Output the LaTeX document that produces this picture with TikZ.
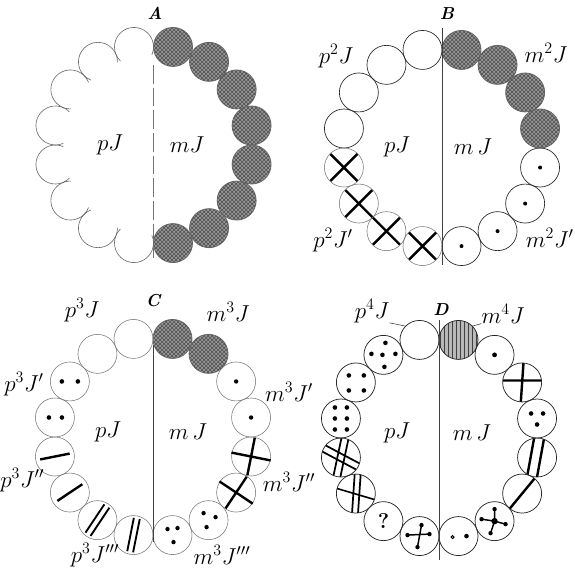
\documentclass[tikz,border=0pt]{standalone}
\usetikzlibrary{patterns,calc}
\begin{document}
\begin{tikzpicture}[x=0.75pt,y=-0.75pt,
  ball/.style={circle,minimum size=29.25pt,inner sep=0pt,outer sep=0pt},
  bopen/.style={ball,draw=black!85,line width=0.5pt},
  bfaint/.style={ball,draw=black!55,line width=0.4pt},
  bdark/.style={ball,draw=black!60,fill=black!40,line width=0.6pt},
  bnone/.style={ball},
  thk/.style={line width=1.8pt,line cap=butt},
  lbl/.style={font=\fontsize{16.5}{16.5}\selectfont,inner sep=0pt},
  ttl/.style={font=\fontsize{13}{13}\selectfont\bfseries\itshape,inner sep=0pt},
  divider/.style={black!75,line width=0.5pt},
  leader/.style={black!80,line width=0.4pt},
  texture/.style={pattern=crosshatch,pattern color=black!70}
]
\useasboundingbox (0,0) rectangle (575,572);

% ---------------- Panel A ----------------
\def\cx{153.5}\def\cy{145}
\foreach \n/\a/\s in {AR1/11.25/bdark,AR2/33.75/bdark,AR3/56.25/bdark,AR4/78.75/bdark,
  AR5/101.25/bdark,AR6/123.75/bdark,AR7/146.25/bdark,AR8/168.75/bdark,
  AL1/-11.25/bnone,AL2/-33.75/bnone,AL3/-56.25/bnone,AL4/-78.75/bnone,
  AL5/-101.25/bnone,AL6/-123.75/bnone,AL7/-146.25/bnone,AL8/-168.75/bnone}
  \node[\s] (\n) at ({\cx+100*sin(\a)},{\cy-100*cos(\a)}) {};
\foreach \k in {1,...,8} \fill[texture] (AR\k.center) circle[radius=19.2];
\foreach \k/\a in {1/-11.25,2/-33.75,3/-56.25,4/-78.75,5/-101.25,6/-123.75,7/-146.25,8/-168.75}
  \draw[black!60,line width=0.45pt,shift={(AL\k.center)},rotate={90-\a}]
    (-125:19.5) arc[start angle=-125,end angle=125,radius=19.5];
\coordinate (Atop) at (153.5,65); \coordinate (Abot) at (153.5,258);
\draw[divider,black!55,dash pattern=on 14pt off 3pt] (Atop) -- (Abot);
\node[ttl] (tA) at (155,13) {A};
\node[lbl] (pJA) at (110,145) {$pJ$};
\node[lbl] (mJA) at (187,145) {$mJ$};

% ---------------- Panel B ----------------
\def\cx{442}\def\cy{148}
\foreach \n/\a/\s in {BR1/11.25/bdark,BR2/33.75/bdark,BR3/56.25/bdark,BR4/78.75/bdark,
  BR5/101.25/bopen,BR6/123.75/bopen,BR7/146.25/bopen,BR8/168.75/bopen,
  BL1/-11.25/bopen,BL2/-33.75/bopen,BL3/-56.25/bopen,BL4/-78.75/bopen,
  BL5/-101.25/bfaint,BL6/-123.75/bfaint,BL7/-146.25/bfaint,BL8/-168.75/bfaint}
  \node[\s] (\n) at ({\cx+100*sin(\a)},{\cy-100*cos(\a)}) {};
\foreach \k in {1,...,4} \fill[texture] (BR\k.center) circle[radius=19.2];
\foreach \k in {5,...,8} \fill (BR\k.center) circle[radius=2];
\foreach \k in {5,...,8}
  \draw[thk,shift={(BL\k.center)},rotate=45] (-19,0) -- (19,0) (0,-19) -- (0,19);
\coordinate (Btop) at (442,28); \coordinate (Bbot) at (442,265);
\draw[divider] (Btop) -- (Bbot);
\node[ttl] (tB) at (447,14) {B};
\node[lbl] (p2) at (336,56) {$p^2J$};
\node[lbl] (m2) at (546,53) {$m^2J$};
\node[lbl] (p2p) at (333,240) {$p^2J'$};
\node[lbl,anchor=east] (m2p) at (574,238) {$m^2J'$};
\node[lbl] (pJB) at (397,147) {$pJ$};
\node[lbl] (mJB) at (473,147) {$m\,J$};

% ---------------- Panel C ----------------
\def\cx{153}\def\cy{437}
\foreach \n/\a/\s in {CR1/11.25/bdark,CR2/33.75/bdark,CR3/56.25/bfaint,CR4/78.75/bfaint,
  CR5/101.25/bfaint,CR6/123.75/bfaint,CR7/146.25/bfaint,CR8/168.75/bfaint,
  CL1/-11.25/bfaint,CL2/-33.75/bfaint,CL3/-56.25/bfaint,CL4/-78.75/bfaint,
  CL5/-101.25/bfaint,CL6/-123.75/bfaint,CL7/-146.25/bfaint,CL8/-168.75/bfaint}
  \node[\s] (\n) at ({\cx+100*sin(\a)},{\cy-100*cos(\a)}) {};
\foreach \k in {1,2} \fill[texture] (CR\k.center) circle[radius=19.2];
\fill (CR3.center) circle[radius=2.2];
\fill (CR4.center) circle[radius=2.2];
\foreach \k/\a in {5/101.25,6/123.75}
  \draw[thk,shift={(CR\k.center)},rotate={90-\a}] (-20,0) -- (20,0) (0,-19) -- (0,19);
\begin{scope}[shift={(CR7.center)}]
  \fill (-5,-7) circle[radius=2.2] (7,-3) circle[radius=2.2] (-2,7) circle[radius=2.2];
\end{scope}
\begin{scope}[shift={(CR8.center)}]
  \fill (-5,-6) circle[radius=2.2] (5,-7) circle[radius=2.2] (1,7) circle[radius=2.2];
\end{scope}
\begin{scope}[shift={(CL3.center)}]
  \fill (-8,0) circle[radius=2.3] (8,0) circle[radius=2.3];
\end{scope}
\begin{scope}[shift={(CL4.center)}]
  \fill (-6,0) circle[radius=2.3] (7,0) circle[radius=2.3];
\end{scope}
\foreach \k/\a in {5/-101.25,6/-123.75}
  \draw[thk,shift={(CL\k.center)},rotate={90-\a}] (-15,0) -- (15,0);
\foreach \k/\a in {7/-146.25,8/-168.75}
  \draw[thk,line width=1.4pt,shift={(CL\k.center)},rotate={90-\a}]
    (-17,-3) -- (17,-3) (-17,3) -- (17,3);
\coordinate (Ctop) at (153,345); \coordinate (Cbot) at (153,542);
\draw[divider] (Ctop) -- (Cbot);
\node[ttl] (tC) at (153,301) {C};
\node[lbl] (p3) at (82,310) {$p^3J$};
\node[lbl] (m3) at (228,312) {$m^3J$};
\node[lbl,anchor=west] (p3a) at (4,384) {$p^3J'$};
\node[lbl] (m3a) at (289,392) {$m^3J'$};
\node[lbl,anchor=west] (p3b) at (0,480) {$p^3J''$};
\node[lbl] (m3b) at (289,482) {$m^3J''$};
\node[lbl] (p3c) at (95,555) {$p^3J'''$};
\node[lbl] (m3c) at (222,555) {$m^3J'''$};
\node[lbl] (pJC) at (108,432) {$pJ$};
\node[lbl] (mJC) at (188,432) {$m\,J$};

% ---------------- Panel D ----------------
\def\cx{439}\def\cy{438}
\foreach \n/\a in {DR1/11.25,DR2/33.75,DR3/56.25,DR4/78.75,
  DR5/101.25,DR6/123.75,DR7/146.25,DR8/168.75,
  DL1/-11.25,DL2/-33.75,DL3/-56.25,DL4/-78.75,
  DL5/-101.25,DL6/-123.75,DL7/-146.25,DL8/-168.75}
  \node[bnone] (\n) at ({\cx+100*sin(\a)},{\cy-100*cos(\a)}) {};
% hatched
\fill[black!28] (DR1.center) circle[radius=19.5];
\fill[pattern=vertical lines,pattern color=black!75] (DR1.center) circle[radius=19.5];
% dot
\fill (DR2.center) circle[radius=2.4];
% upright cross
\begin{scope}[shift={(DR3.center)}]
  \clip (0,0) circle[radius=19.5];
  \draw[thk] (-22,-2) -- (22,-2) (1.5,-22) -- (-1.5,22);
\end{scope}
% three dots
\begin{scope}[shift={(DR4.center)}]
  \fill (-6,-5) circle[radius=2.3] (6,-5) circle[radius=2.3] (0,6) circle[radius=2.3];
\end{scope}
% double slanted lines
\begin{scope}[shift={(DR5.center)}]
  \clip (0,0) circle[radius=19.5];
  \draw[thk] (-2.5,-22) -- (-10.5,22) (7.5,-22) -- (-0.5,22);
\end{scope}
% single diagonal
\begin{scope}[shift={(DR6.center)}]
  \clip (0,0) circle[radius=19.5];
  \draw[thk] (-14,17) -- (14,-17);
\end{scope}
% star
\begin{scope}[shift={(DR7.center)}]
  \draw[line width=1.1pt] (0,-12) -- (0,0) -- (-13,-2) (0,0) -- (11,3) (0,0) -- (-4,12);
  \fill (0,0) circle[radius=3.2];
  \fill (0,-12) circle[radius=2.2] (-13,-2) circle[radius=2.2] (11,3) circle[radius=2.2] (-4,12) circle[radius=2.2];
\end{scope}
% two dots
\begin{scope}[shift={(DR8.center)}]
  \draw[line width=0.7pt] (-6,1) circle[radius=1.5];
  \fill (8,0) circle[radius=2.3];
\end{scope}
% five dots
\begin{scope}[shift={(DL2.center)}]
  \fill (2,-12) circle[radius=2.3] (-12,-1) circle[radius=2.3] (-1,0) circle[radius=2.3]
        (12,-1) circle[radius=2.3] (1,12) circle[radius=2.3];
\end{scope}
% four dots
\begin{scope}[shift={(DL3.center)}]
  \fill (-7,-7) circle[radius=2.3] (8,-7) circle[radius=2.3] (-7,8) circle[radius=2.3] (8,8) circle[radius=2.3];
\end{scope}
% six dots
\begin{scope}[shift={(DL4.center)}]
  \foreach \yy in {-11,0,11} \fill (-6,\yy) circle[radius=2.3] (6,\yy) circle[radius=2.3];
\end{scope}
% double hash
\begin{scope}[shift={(DL5.center)}]
  \clip (0,0) circle[radius=19.5];
  \draw[thk,line width=1.3pt,rotate=-12] (-3.5,-22) -- (-3.5,22) (3.5,-22) -- (3.5,22);
  \draw[thk,line width=1.3pt,rotate=-28] (-22,-3.5) -- (22,-3.5) (-22,3.5) -- (22,3.5);
\end{scope}
% double vertical + single horizontal
\begin{scope}[shift={(DL6.center)}]
  \clip (0,0) circle[radius=19.5];
  \draw[thk,line width=1.3pt] (-1,-22) -- (-4,22) (5,-22) -- (2,22);
  \draw[thk,line width=1.2pt] (-22,-6) -- (22,7);
\end{scope}
% question mark
\node[font=\fontsize{16}{16}\selectfont\bfseries,inner sep=0pt] (qm) at (DL7.center) {?};
% cross with end dots
\begin{scope}[shift={(DL8.center)}]
  \draw[line width=1.1pt] (-12,-1) -- (10,-2) (2,-11) -- (-2,11);
  \fill (-12,-1) circle[radius=2.2] (10,-2) circle[radius=2.2] (2,-11) circle[radius=2.2] (-2,11) circle[radius=2.2];
\end{scope}
% outlines on top
\foreach \n in {DR1,DR2,DR3,DR4,DR5,DR6,DR7,DR8,DL1,DL2,DL3,DL4,DL5,DL6,DL7,DL8}
  \draw[black!85,line width=0.55pt] (\n.center) circle[radius=19.5];
\coordinate (Dtop) at (439,320); \coordinate (Dbot) at (439,560);
\draw[divider] (Dtop) -- (Dbot);
\node[ttl] (tD) at (441,310) {D};
\node[lbl] (p4) at (372,311) {$p^4J$};
\node[lbl] (m4) at (503,314) {$m^4J$};
\draw[leader] (p4.south east) -- (DL1.north west);
\draw[leader] (m4.south west) -- (DR1.north east);
\node[lbl] (pJD) at (397,433) {$pJ$};
\node[lbl] (mJD) at (472,433) {$m\,J$};
\end{tikzpicture}
\end{document}
